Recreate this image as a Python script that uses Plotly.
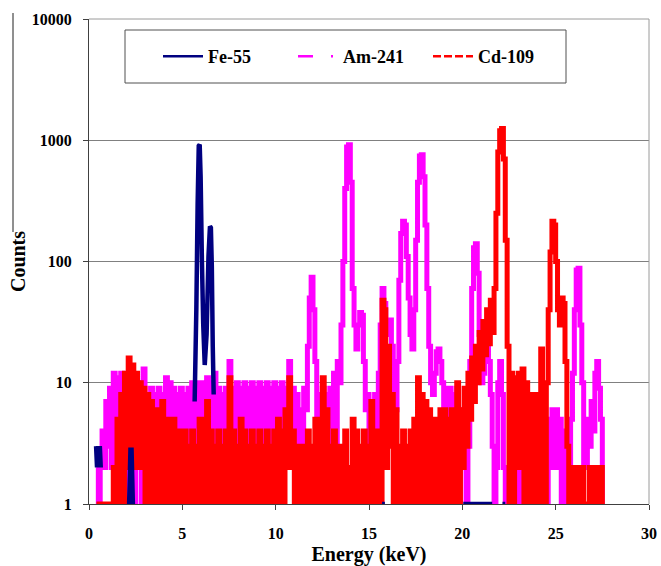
import plotly.graph_objects as go

# Channel energies (keV), 0.1 keV bins from 0.4 to 27.5
energy_kev = [round(0.4 + 0.1 * i, 1) for i in range(272)]

# Am-241 spectrum counts per channel (10 channels per row = 1 keV)
am241_counts = [
    2, 1, 2, 4, 2, 7, 3, 9, 2, 12,          # 0.4 - 1.3
    2, 11, 1, 12, 2, 10, 1, 11, 2, 12,      # 1.4 - 2.3
    1, 11, 2, 10, 1, 13, 2, 8, 2, 9,        # 2.4 - 3.3
    2, 8, 2, 9, 2, 8, 2, 11, 2, 10,         # 3.4 - 4.3
    2, 9, 2, 8, 2, 9, 2, 8, 2, 9,           # 4.4 - 5.3
    2, 10, 2, 9, 2, 10, 2, 10, 2, 11,       # 5.4 - 6.3
    2, 10, 2, 12, 2, 9, 2, 8, 2, 9,         # 6.4 - 7.3
    2, 15, 2, 9, 2, 10, 2, 9, 2, 10,        # 7.4 - 8.3
    2, 9, 2, 10, 2, 9, 2, 10, 2, 9,         # 8.4 - 9.3
    2, 10, 2, 9, 2, 10, 2, 9, 2, 10,        # 9.4 - 10.3
    2, 9, 2, 15, 2, 9, 2, 8, 2, 6,          # 10.4 - 11.3
    2, 9, 6, 20, 50, 74, 40, 15, 3, 8,      # 11.4 - 12.3
    2, 9, 2, 8, 2, 9, 2, 12, 3, 15,         # 12.4 - 13.3
    10, 30, 100, 400, 880, 920, 450, 60, 30, 19,    # 13.4 - 14.3
    30, 38, 36, 15, 6, 8, 2, 7, 2, 8,       # 14.4 - 15.3
    2, 12, 30, 60, 45, 25, 30, 33, 20, 8,   # 15.4 - 16.3
    6, 15, 70, 170, 215, 200, 110, 50, 25, 19,      # 16.4 - 17.3
    40, 150, 450, 740, 760, 500, 200, 60, 20, 10,   # 17.4 - 18.3
    8, 12, 18, 19, 15, 10, 2, 9, 2, 9,      # 18.4 - 19.3
    2, 8, 2, 9, 2, 6, 2, 3, 1, 3,           # 19.4 - 20.3
    15, 60, 130, 140, 80, 25, 10, 12, 18, 22,       # 20.4 - 21.3
    15, 8, 3, 1, 2, 10, 15, 8, 2, 1,        # 21.4 - 22.3
    1, 2, 1, 2, 1, 2, 1, 2, 1, 2,           # 22.4 - 23.3
    1, 2, 1, 2, 1, 2, 1, 2, 1, 2,           # 23.4 - 24.3
    4, 1, 5, 2, 6, 2, 6, 2, 5, 1,           # 24.4 - 25.3
    4, 1, 3, 2, 5, 12, 40, 85, 88, 30,      # 25.4 - 26.3
    10, 2, 2, 5, 3, 7, 4, 12, 15, 9,        # 26.4 - 27.3
    5, 1,                                   # 27.4 - 27.5
]

# Cd-109 spectrum counts per channel
cd109_counts = [
    1, 1, 1, 1, 1, 1, 1, 1, 1, 2,           # 0.4 - 1.3
    1, 5, 1, 8, 1, 12, 2, 16, 3, 14,        # 1.4 - 2.3
    2, 12, 2, 10, 2, 9, 1, 8, 1, 7,         # 2.4 - 3.3
    1, 6, 1, 6, 1, 7, 1, 5, 1, 5,           # 3.4 - 4.3
    1, 5, 1, 4, 1, 4, 1, 4, 1, 3,           # 4.4 - 5.3
    1, 4, 1, 3, 1, 5, 1, 5, 1, 7,           # 5.4 - 6.3
    1, 4, 1, 3, 1, 4, 1, 3, 1, 4,           # 6.4 - 7.3
    1, 11, 1, 4, 1, 3, 1, 5, 1, 4,          # 7.4 - 8.3
    1, 3, 1, 4, 1, 3, 1, 4, 1, 3,           # 8.4 - 9.3
    1, 4, 1, 3, 1, 4, 1, 5, 1, 4,           # 9.4 - 10.3
    1, 6, 2, 11, 2, 4, 1, 3, 1, 3,          # 10.4 - 11.3
    1, 3, 1, 4, 1, 3, 1, 5, 1, 5,           # 11.4 - 12.3
    1, 11, 1, 6, 1, 3, 1, 4, 1, 3,          # 12.4 - 13.3
    1, 3, 1, 4, 1, 2, 1, 5, 1, 4,           # 13.4 - 14.3
    1, 3, 1, 4, 1, 3, 1, 7, 1, 4,           # 14.4 - 15.3
    1, 4, 1, 48, 40, 2, 20, 3, 8, 1,        # 15.4 - 16.3
    6, 1, 3, 1, 4, 1, 3, 1, 4, 1,           # 16.4 - 17.3
    5, 1, 11, 1, 8, 1, 7, 1, 6, 1,          # 17.4 - 18.3
    5, 1, 5, 1, 6, 1, 6, 1, 5, 1,           # 18.4 - 19.3
    6, 1, 6, 10, 1, 6, 2, 9, 3, 12,         # 19.4 - 20.3
    5, 16, 7, 20, 10, 26, 13, 32, 17, 40,   # 20.4 - 21.3
    21, 48, 26, 60, 250, 800, 1200, 1250, 700, 150, # 21.4 - 22.3
    20, 1, 12, 1, 11, 2, 12, 2, 13, 1,      # 22.4 - 23.3
    10, 1, 8, 1, 8, 1, 8, 1, 19, 1,         # 23.4 - 24.3
    1, 10, 40, 120, 215, 200, 100, 40, 30, 50,      # 24.4 - 25.3
    45, 15, 3, 1, 2, 1, 2, 1, 2, 1,         # 25.4 - 26.3
    2, 1, 1, 1, 2, 1, 2, 1, 2, 1,           # 26.4 - 27.3
    2, 1,                                   # 27.4 - 27.5
]

# Fe-55 spectrum: only the recorded channels (None separates runs)
fe55_energy = [0.38, 0.43, 0.48, 0.53, 0.58, 0.63, None,
               2.15, 2.22, 2.28, 2.35, None,
               5.66, 5.75, 5.82, 5.88, 5.93, 5.98, 6.05, 6.12, 6.2, 6.3,
               6.4, 6.48, 6.53, 6.58, 6.63, 6.68, None,
               15.7, 15.85, None, 20.05, 21.6, None, 22.15, 22.3]
fe55_counts = [3, 2, 3, 2, 3, 2, None,
               1, 2.8, 2.8, 1, None,
               7, 40, 300, 900, 920, 500, 100, 30, 14, 25,
               110, 195, 190, 90, 20, 8, None,
               1, 1, None, 1, 1, None, 1, 1]

series_names = ["Fe-55", "Am-241", "Cd-109"]
series_colors = ["#000080", "#FF00FF", "#FF0000"]
legend_dashes = ["solid", "15px,18px,2px,20px", "8px,3px"]

x_ticks = [0, 5, 10, 15, 20, 25, 30]
y_ticks = [1, 10, 100, 1000, 10000]
y_tick_text = ["1", "10", "100", "1000", "10000"]

FONT = "Liberation Serif"
DATA_WIDTH = 5

fig = go.Figure()

# spectra (Am-241 at the back, Fe-55 in front); channel-step lines
fig.add_trace(go.Scatter(x=energy_kev, y=am241_counts, mode="lines",
                         line=dict(color=series_colors[1], width=DATA_WIDTH,
                                   shape="hv", simplify=False),
                         showlegend=False, hoverinfo="skip"))
fig.add_trace(go.Scatter(x=energy_kev, y=cd109_counts, mode="lines",
                         line=dict(color=series_colors[2], width=DATA_WIDTH,
                                   shape="hv", simplify=False),
                         showlegend=False, hoverinfo="skip"))
fig.add_trace(go.Scatter(x=fe55_energy, y=fe55_counts, mode="lines",
                         line=dict(color=series_colors[0], width=DATA_WIDTH - 0.5,
                                   simplify=False),
                         connectgaps=False, showlegend=False, hoverinfo="skip"))

# legend entries
for name, color, dash in zip(series_names, series_colors, legend_dashes):
    fig.add_trace(go.Scatter(x=[None], y=[None], mode="lines", name=name,
                             line=dict(color=color, width=2.6, dash=dash)))

# paper coordinates of the plotting area: x 89..649 px, y 19..504 px
def px_x(p):
    return (p - 89) / 560.0

def px_y(p):
    return (504 - p) / 485.0

shapes = [
    # top and right frame
    dict(type="line", xref="paper", yref="paper", x0=0, x1=1, y0=1, y1=1,
         line=dict(color="#9a9a9a", width=1)),
    dict(type="line", xref="paper", yref="paper", x0=1, x1=1, y0=0, y1=1,
         line=dict(color="#9a9a9a", width=1)),
    # legend frame
    dict(type="rect", xref="paper", yref="paper", layer="below",
         x0=px_x(125), x1=px_x(566), y0=px_y(83), y1=px_y(30),
         line=dict(color="#505050", width=1), fillcolor="white"),
    # chart area edge on the left
    dict(type="line", xref="paper", yref="paper",
         x0=px_x(13), x1=px_x(13), y0=px_y(232), y1=px_y(13),
         line=dict(color="#202020", width=1)),
]

fig.update_layout(
    width=661, height=566,
    margin=dict(l=89, r=12, t=19, b=62),
    paper_bgcolor="white", plot_bgcolor="white",
    font=dict(family=FONT, size=16, color="black"),
    shapes=shapes,
    showlegend=True,
    legend=dict(orientation="h", x=px_x(158), y=px_y(56.5),
                xanchor="left", yanchor="middle",
                bgcolor="rgba(0,0,0,0)", borderwidth=0,
                itemwidth=40, entrywidth=80, entrywidthmode="pixels",
                traceorder="normal",
                font=dict(family=FONT, size=18, color="black", weight="bold")),
    xaxis=dict(range=[0, 30], tickvals=x_ticks, ticks="outside", ticklen=5,
               tickcolor="#404040", showline=True, linecolor="#404040",
               linewidth=1, showgrid=False, zeroline=False, automargin=False,
               ticklabelstandoff=10,
               tickfont=dict(family=FONT, size=16, weight="bold"),
               title=dict(text="Energy (keV)", standoff=12,
                          font=dict(family=FONT, size=20, weight="bold"))),
    yaxis=dict(type="log", range=[0, 4], tickvals=y_ticks, ticktext=y_tick_text,
               ticks="outside", ticklen=5, tickcolor="#404040",
               showline=True, linecolor="#404040", linewidth=1,
               showgrid=True, gridcolor="#808080", gridwidth=1,
               zeroline=False, automargin=False, ticklabelstandoff=8,
               tickfont=dict(family=FONT, size=16, weight="bold"),
               title=dict(text="Counts", standoff=0,
                          font=dict(family=FONT, size=20, weight="bold"))),
)

fig.write_html("out.html")
